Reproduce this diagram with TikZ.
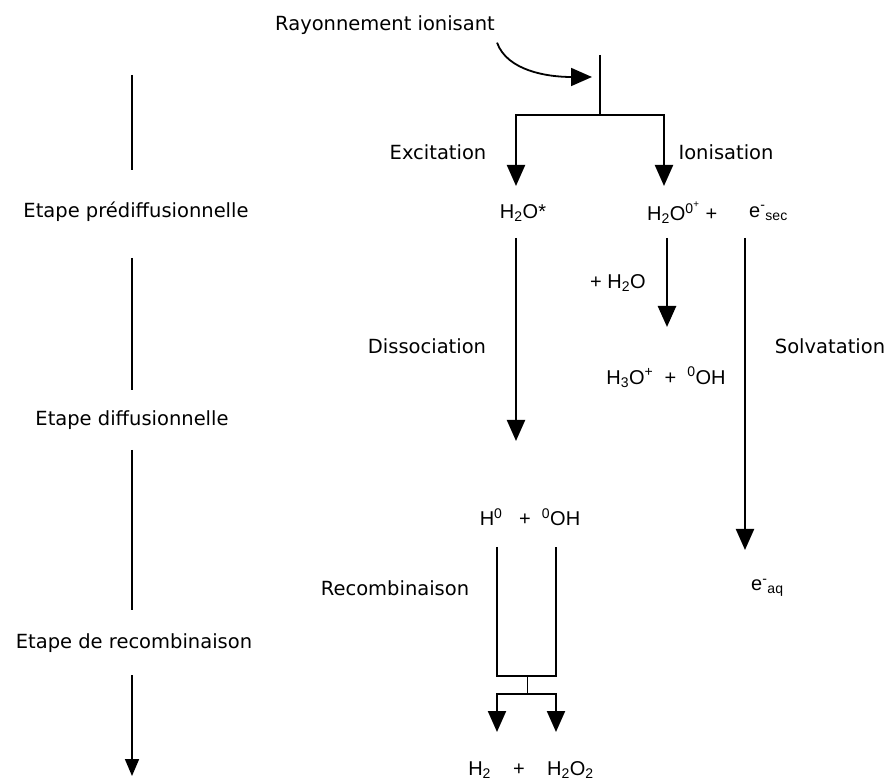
\documentclass[tikz,border=0pt]{standalone}
\usepackage{fontspec}
\setmainfont{Liberation Sans}
\newfontfamily\labelfont{DejaVu Sans}
\usetikzlibrary{arrows.meta}

\begin{document}
\begin{tikzpicture}
            [x=1pt,y=-1pt,
                lbl/.style={font=\labelfont\fontsize{19.5}{23}\selectfont,inner sep=0pt},
                chem/.style={font=\fontsize{20}{24}\selectfont,inner sep=0pt},
                link/.style={line width=2.1pt},
                flow/.style={link,-{Triangle[width=18pt,length=21pt]}},
                axe/.style={line width=1.8pt}]
            \useasboundingbox (0,0) rectangle (887,783);

            %the stages on the left
            \node[lbl] (pre) at (136,212) {Etape prédiffusionnelle};
            \node[lbl] (diff) at (132,420) {Etape diffusionnelle};
            \node[lbl] (recst) at (134,643) {Etape de recombinaison};
            \coordinate (t0) at (132,75);
            \coordinate (t1) at (132,776);
            \coordinate (t0a) at (132,170);
            \coordinate (t1a) at (132,258);
            \coordinate (t1b) at (132,390);
            \coordinate (t2a) at (132,450);
            \coordinate (t2b) at (132,610);
            \coordinate (t3a) at (132,675);
            \draw[axe] (t0) -- (t0a);
            \draw[axe] (t1a) -- (t1b);
            \draw[axe] (t2a) -- (t2b);
            \draw[axe,-{Triangle[width=14pt,length=17pt]}] (t3a) -- (t1);

            %radiation hitting the water
            \node[lbl] (ray) at (385,25) {Rayonnement ionisant};
            \coordinate (top) at (600,55);
            \coordinate (split) at (600,115);
            \coordinate (hit) at (592,77);
            \draw[flow,line width=1.8pt] ([shift={(2,8)}]ray.south east) .. controls +(10,28) and +(-45,0) .. (hit);
            \draw[link] (top) -- (split);

            %excitation and ionisation
            \node[lbl] (excit) at (438,152) {Excitation};
            \node[lbl] (ionis) at (726,152) {Ionisation};
            \coordinate (excTip) at (516,186);
            \coordinate (ionTip) at (664,186);
            \draw[flow] (split) -| (excTip);
            \draw[flow] (split) -| (ionTip);

            \node[chem] (h2oex) at (523,213) {H\textsubscript{2}O*};
            \node[chem,anchor=west] (h2oion) at (647,213) {H\textsubscript{2}O\textsuperscript{0\textsuperscript{+}}\ +};
            \node[chem,anchor=west] (esec) at (749,213) {e\textsuperscript{-}\textsubscript{sec}};

            %ion and electron
            \node[chem] (addw) at (618,283) {+ H\textsubscript{2}O};
            \node[chem] (h3o) at (666,377) {H\textsubscript{3}O\textsuperscript{+}\ \ +\ \ \textsuperscript{0}OH};
            \coordinate (hydStart) at (667,238);
            \coordinate (hydTip) at (667,327);
            \draw[flow,line width=2.6pt] (hydStart) -- (hydTip);
            \node[lbl] (solv) at (830,346) {Solvatation};
            \coordinate (solvStart) at (745,238);
            \coordinate (solvTip) at (745,550);
            \draw[flow] (solvStart) -- (solvTip);
            \node[chem,anchor=west] (eaq) at (751,588) {e\textsuperscript{-}\textsubscript{aq}};

            %dissociation
            \node[lbl] (dissoc) at (427,346) {Dissociation};
            \coordinate (dissStart) at (516,238);
            \coordinate (dissTip) at (516,441);
            \draw[flow] (dissStart) -- (dissTip);
            \node[chem] (radic) at (530,517) {H\textsuperscript{0}\ \ \ +\ \ \textsuperscript{0}OH};

            %recombination
            \node[lbl] (recomb) at (395,588) {Recombinaison};
            \coordinate (rl) at (497,547);
            \coordinate (rr) at (556,547);
            \coordinate (rbl) at (497,676);
            \coordinate (rbr) at (556,676);
            \coordinate (rmid) at (527,676);
            \coordinate (rlow) at (527,694);
            \coordinate (pl) at (497,732);
            \coordinate (pr) at (556,732);
            \draw[link] (rl) -- (rbl) -- (rbr) -- (rr);
            \draw[line width=1pt] (rmid) -- (rlow);
            \draw[flow] (rlow) -| (pl);
            \draw[flow] (rlow) -| (pr);
            \node[chem] (prod) at (531,770) {H\textsubscript{2}\ \ \ \ +\ \ \ \ H\textsubscript{2}O\textsubscript{2}};
        \end{tikzpicture}
\end{document}
